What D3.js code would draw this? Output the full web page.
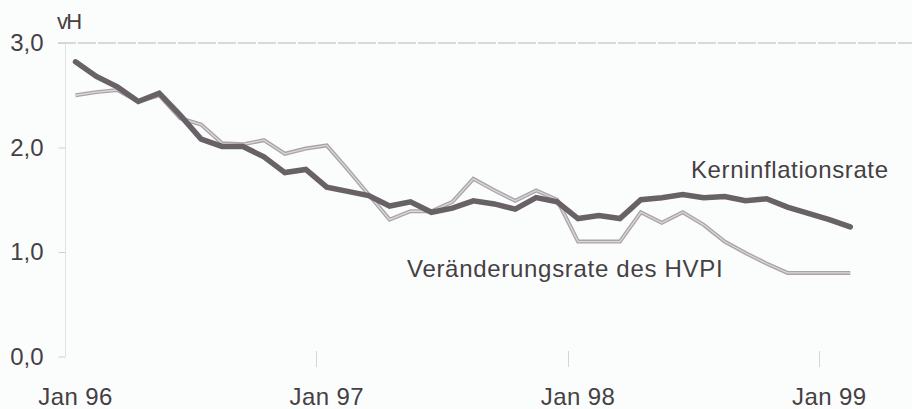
<!DOCTYPE html>
<html>
<head>
<meta charset="utf-8">
<script src="https://cdn.jsdelivr.net/npm/d3@7"></script>
<style>
  body { margin: 0; background: #fbfdfd; }
  svg { display: block; font-family: "Liberation Sans", Arial, sans-serif; }
</style>
</head>
<body>
<div id="container"></div>
<script>
/* DATA */
const months = [
  "Jan 96", "Feb 96", "Mar 96", "Apr 96", "Mai 96", "Jun 96", "Jul 96", "Aug 96", "Sep 96", "Okt 96", "Nov 96", "Dez 96",
  "Jan 97", "Feb 97", "Mar 97", "Apr 97", "Mai 97", "Jun 97", "Jul 97", "Aug 97", "Sep 97", "Okt 97", "Nov 97", "Dez 97",
  "Jan 98", "Feb 98", "Mar 98", "Apr 98", "Mai 98", "Jun 98", "Jul 98", "Aug 98", "Sep 98", "Okt 98", "Nov 98", "Dez 98",
  "Jan 99", "Feb 99"
];
const kerninflation = [
  2.82, 2.68, 2.58, 2.44, 2.52, 2.31, 2.08, 2.01, 2.01, 1.91, 1.76, 1.79,
  1.62, 1.58, 1.54, 1.44, 1.48, 1.38, 1.42, 1.49, 1.46, 1.41, 1.52, 1.48,
  1.32, 1.35, 1.32, 1.50, 1.52, 1.55, 1.52, 1.53, 1.49, 1.51, 1.43, 1.37,
  1.31, 1.24
];
const hvpi = [
  2.50, 2.53, 2.55, 2.44, 2.50, 2.28, 2.22, 2.04, 2.03, 2.07, 1.94, 1.99,
  2.02, 1.79, 1.55, 1.31, 1.39, 1.39, 1.48, 1.70, 1.59, 1.49, 1.59, 1.50,
  1.10, 1.10, 1.10, 1.38, 1.28, 1.38, 1.26, 1.10, 0.99, 0.89, 0.80, 0.80,
  0.80, 0.80
];
const xTickLabels = ["Jan 96", "Jan 97", "Jan 98", "Jan 99"];
const yTicks = [0, 1, 2, 3];

/* CONSTANTS */
const width = 912, height = 409;
const textColor = "#463f44";

const svg = d3.select("#container").append("svg")
  .attr("width", width)
  .attr("height", height);

/* SCALES */
const xScale = d3.scaleBand()
  .domain(months)
  .range([65, 65 + months.length * 20.94])
  .padding(0);

const yScale = d3.scaleLinear()
  .domain([0, 3])
  .range([356.5, 43]);

const xMid = m => xScale(m) + xScale.bandwidth() / 2;

/* AXES */
// gridline at the top value
svg.append("line")
  .attr("x1", 58).attr("x2", width)
  .attr("y1", yScale(3)).attr("y2", yScale(3))
  .attr("stroke", "#b4b4b6")
  .attr("stroke-width", 1)
  .attr("stroke-dasharray", "18 2");

// y axis line
svg.append("line")
  .attr("x1", 65.5).attr("x2", 65.5)
  .attr("y1", yScale(3)).attr("y2", yScale(0))
  .attr("stroke", "#e2e2e4")
  .attr("stroke-width", 1);

const yAxis = d3.axisLeft(yScale)
  .tickValues(yTicks)
  .tickSize(7)
  .tickPadding(15)
  .tickFormat(d => d3.format(".1f")(d).replace(".", ","));

svg.append("g")
  .attr("transform", "translate(65.5,0)")
  .call(yAxis)
  .call(g => g.select(".domain").remove())
  .call(g => g.selectAll(".tick line").attr("stroke", "#cfcfd2"))
  .call(g => g.selectAll(".tick text")
    .attr("fill", textColor)
    .attr("font-size", 24)
    .attr("dy", "0.33em")
    .attr("x", -22));

// x ticks on month boundaries (January of each year)
svg.append("g")
  .selectAll("line")
  .data(xTickLabels.slice(1))
  .join("line")
    .attr("x1", d => Math.round(xScale(d)) + 0.5)
    .attr("x2", d => Math.round(xScale(d)) + 0.5)
    .attr("y1", 351)
    .attr("y2", 367)
    .attr("stroke", "#d6d6d8");

// x labels centred under the month
svg.append("g")
  .selectAll("text")
  .data(xTickLabels)
  .join("text")
    .attr("x", d => xMid(d))
    .attr("y", 405)
    .attr("text-anchor", "middle")
    .attr("font-size", 24)
    .attr("letter-spacing", 0.4)
    .attr("fill", textColor)
    .text(d => d);

// unit label
svg.append("text")
  .attr("x", 57)
  .attr("y", 29)
  .attr("font-size", 22)
  .attr("letter-spacing", -1.8)
  .attr("fill", textColor)
  .text("vH");

/* LINES */
const line = d3.line()
  .x((d, i) => xMid(months[i]))
  .y(d => yScale(d));

svg.append("path")
  .datum(hvpi)
  .attr("fill", "none")
  .attr("stroke", "#aaa4a8")
  .attr("stroke-width", 4)
  .attr("stroke-linejoin", "miter")
  .attr("d", line);

svg.append("path")
  .datum(hvpi)
  .attr("fill", "none")
  .attr("stroke", "#dcd8da")
  .attr("stroke-width", 1.3)
  .attr("d", line);

svg.append("path")
  .datum(kerninflation)
  .attr("fill", "none")
  .attr("stroke", "#686166")
  .attr("stroke-width", 5.5)
  .attr("stroke-linejoin", "miter")
  .attr("stroke-linecap", "round")
  .attr("d", line);

/* SERIES LABELS */
svg.append("text")
  .attr("x", 691)
  .attr("y", 178)
  .attr("font-size", 24)
  .attr("letter-spacing", 0.6)
  .attr("fill", textColor)
  .text("Kerninflationsrate");

svg.append("text")
  .attr("x", 407)
  .attr("y", 277)
  .attr("font-size", 24)
  .attr("letter-spacing", 0.7)
  .attr("fill", textColor)
  .text("Veränderungsrate des HVPI");
</script>
</body>
</html>
